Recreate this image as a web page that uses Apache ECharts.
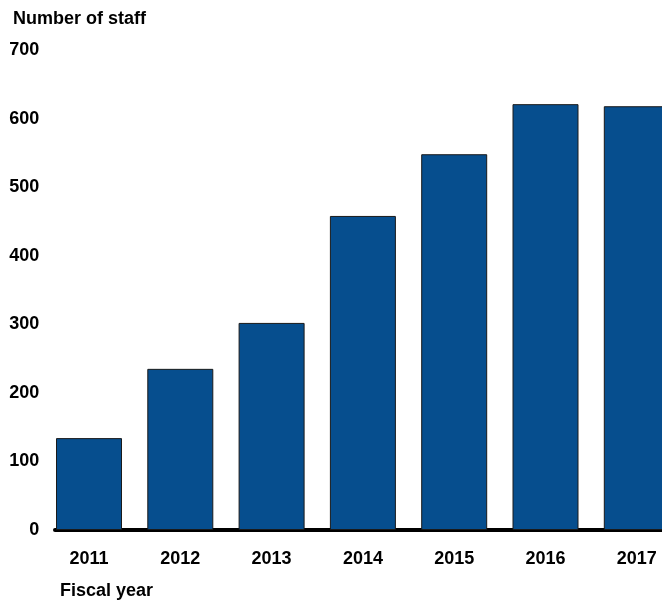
<!DOCTYPE html>
<html lang="en">
<head>
<meta charset="UTF-8" />
<title>Number of staff</title>
<style>
  html, body { margin: 0; padding: 0; background: #fff; }
  #main { width: 662px; height: 601px; }
</style>
</head>
<body>
<div id="main"></div>
<script src="https://cdn.jsdelivr.net/npm/echarts@6/dist/echarts.min.js"></script>
<script>
var years = ['2011', '2012', '2013', '2014', '2015', '2016', '2017'];
var staff = [134, 235, 302, 458, 548, 621, 618];
var yTicks = [0, 100, 200, 300, 400, 500, 600, 700];

var chart = echarts.init(document.getElementById('main'));
var font = 'Liberation Sans, Arial, sans-serif';

var option = {
  animation: false,
  title: [
    { text: 'Number of staff', left: 8, top: 5,
      textStyle: { fontFamily: font, fontSize: 18, fontWeight: 'bold', color: '#000' } },
    { text: 'Fiscal year', left: 55, top: 577,
      textStyle: { fontFamily: font, fontSize: 18, fontWeight: 'bold', color: '#000' } }
  ],
  grid: [
    // plot runs past the right edge, the last bar is cut off
    { left: 43.35, width: 639.1, top: 50, bottom: 71, containLabel: false, outerBoundsMode: 'none' },
    // only used to draw the baseline from the first bar edge
    { left: 55, width: 640, top: 50, bottom: 71, containLabel: false, outerBoundsMode: 'none' }
  ],
  xAxis: [
    {
      type: 'category', gridIndex: 0, data: years,
      axisLine: { show: false }, axisTick: { show: false },
      axisLabel: { margin: 20, fontFamily: font, fontSize: 18, fontWeight: 'bold', color: '#000' }
    },
    {
      type: 'value', gridIndex: 1, min: 0, max: 1,
      axisLine: { show: true, lineStyle: { color: '#000', width: 4 } },
      axisTick: { show: false }, axisLabel: { show: false }, splitLine: { show: false }
    }
  ],
  yAxis: [
    {
      type: 'value', gridIndex: 0, min: yTicks[0], max: yTicks[yTicks.length - 1], interval: 100,
      axisLine: { show: false }, axisTick: { show: false }, splitLine: { show: false },
      axisLabel: { margin: 4, fontFamily: font, fontSize: 18, fontWeight: 'bold', color: '#000' }
    },
    { type: 'value', gridIndex: 1, min: 0, max: 1, show: false }
  ],
  series: [{
    type: 'bar',
    xAxisIndex: 0, yAxisIndex: 0,
    data: staff,
    barWidth: 66,
    itemStyle: { color: '#064E8E', borderColor: '#1a1a1a', borderWidth: 1 }
  }]
};

chart.setOption(option);
</script>
</body>
</html>
